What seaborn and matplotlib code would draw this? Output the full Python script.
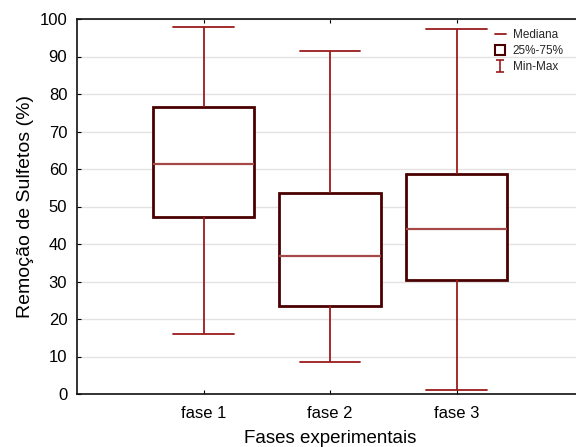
import pandas as pd
import seaborn as sns
import matplotlib.pyplot as plt
from matplotlib.lines import Line2D
from matplotlib.path import Path

sns.set_style('white')
plt.rcParams['font.family'] = ['Liberation Sans', 'DejaVu Sans']

fases = ['fase 1', 'fase 2', 'fase 3']
minimo = [16.0, 8.6, 1.1]
q1 = [47.3, 23.5, 30.5]
mediana = [61.3, 36.7, 44.0]
q3 = [76.5, 53.5, 58.8]
maximo = [98.0, 91.5, 97.3]

# 5 valores por fase -> quartis exatos com whis=(0,100)
linhas = []
for i, f in enumerate(fases):
    for v in [minimo[i], q1[i], mediana[i], q3[i], maximo[i]]:
        linhas.append({'fase': f, 'valor': v})
df = pd.DataFrame(linhas)

borda = '#4a0000'
bigode = '#9b1b1b'
med_cor = '#a54848'

fig = plt.figure(figsize=(5.76, 4.47), dpi=100)
ax = fig.add_axes([77/576, 1-394/447, 506/576, 375/447])

sns.boxplot(data=df, x='fase', y='valor', whis=(0, 100), width=0.8, showfliers=False,
            color='white', saturation=1, linecolor=borda, linewidth=2,
            boxprops=dict(facecolor='white', edgecolor=borda, linewidth=2),
            whiskerprops=dict(color=bigode, linewidth=1.3),
            capprops=dict(color=bigode, linewidth=1.3),
            medianprops=dict(color=med_cor, linewidth=1.6),
            capwidths=0.48, ax=ax)

ax.set_xlim(-1, 3)
ax.set_ylim(0, 100)
ax.set_yticks(range(0, 101, 10))
ax.yaxis.grid(True, color='#e2e2e2', linewidth=1)
ax.set_axisbelow(True)
for s in ['left', 'bottom', 'top']:
    ax.spines[s].set_color('#111111')
    ax.spines[s].set_linewidth(1.2)
ax.spines['right'].set_visible(False)
ax.tick_params(direction='in', length=3, width=0.8, labelsize=12, colors='black',
               top=True, left=True, bottom=True)
ax.tick_params(axis='y', pad=7)
ax.tick_params(axis='x', pad=9)
ax.set_xlabel('Fases experimentais', fontsize=13.5, labelpad=6, color='black')
ax.set_ylabel('Remoção de Sulfetos (%)', fontsize=14, labelpad=4, color='black')

ibeam = Path([(-0.7, 1), (0.7, 1), (0, 1), (0, -1), (-0.7, -1), (0.7, -1)],
             [Path.MOVETO, Path.LINETO, Path.MOVETO, Path.LINETO, Path.MOVETO, Path.LINETO])
handles = [Line2D([], [], color=bigode, linewidth=1.3),
           Line2D([], [], linestyle='none', marker='s', markersize=7.5,
                  markerfacecolor='white', markeredgecolor=borda, markeredgewidth=1.5),
           Line2D([], [], linestyle='none', marker=ibeam, markersize=9,
                  markeredgecolor=bigode, markeredgewidth=1.2)]
ax.legend(handles, ['Mediana', '25%-75%', 'Min-Max'], loc='upper left',
          bbox_to_anchor=(0.81, 0.995), frameon=False, fontsize=8.5,
          handlelength=0.9, handletextpad=0.6, labelspacing=0.35, borderpad=0.2)

plt.savefig('out.png', dpi=100)
